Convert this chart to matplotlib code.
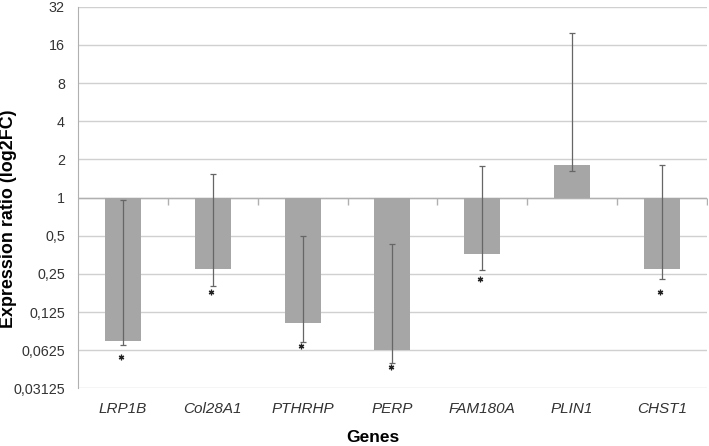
import matplotlib
matplotlib.use("Agg")
import matplotlib.pyplot as plt
import numpy as np

plt.rcParams['font.family'] = ['Liberation Sans', 'DejaVu Sans']

genes = ['LRP1B', 'Col28A1', 'PTHRHP', 'PERP', 'FAM180A', 'PLIN1', 'CHST1']
ratio = [0.074, 0.275, 0.102, 0.0625, 0.357, 1.81, 0.272]
err_low = [0.069, 0.20, 0.073, 0.050, 0.27, 1.62, 0.23]
err_high = [0.95, 1.53, 0.50, 0.43, 1.76, 20.0, 1.82]
# significance markers (star heights)
star_y = [0.055, 0.180, 0.067, 0.046, 0.228, None, 0.180]

ticks = [0.03125, 0.0625, 0.125, 0.25, 0.5, 1, 2, 4, 8, 16, 32]
tick_labels = ['0,03125', '0,0625', '0,125', '0,25', '0,5', '1', '2', '4', '8', '16', '32']

fig = plt.figure(figsize=(7.09, 4.46), dpi=100)
ax = fig.add_axes([0.110, 0.129, 0.887, 0.856])

x = np.arange(len(genes))
r = np.array(ratio)
# bars start at 1 on a log axis
ax.bar(x, r - 1, bottom=1, width=0.4, color='#a6a6a6', zorder=2)
ax.errorbar(x, r, yerr=[r - np.array(err_low), np.array(err_high) - r],
            fmt='none', ecolor='#666666', elinewidth=0.9, capsize=2.5,
            capthick=0.9, zorder=3)

sx = [x[i] - 0.02 for i, s in enumerate(star_y) if s is not None]
sy = [s for s in star_y if s is not None]
ax.plot(sx, sy, linestyle='none', marker=(6, 2, 0), markersize=4,
        markeredgewidth=0.9, color='#222222', zorder=4)

ax.set_yscale('log', base=2)
ax.set_ylim(0.03125, 32)
ax.set_xlim(-0.5, len(genes) - 0.5)
ax.set_yticks(ticks)
ax.set_yticklabels(tick_labels)
ax.yaxis.set_minor_locator(matplotlib.ticker.NullLocator())
ax.tick_params(axis='y', length=0, labelsize=10.3, labelcolor='#333333', pad=9.5)
ax.grid(axis='y', color='#d0d0d0', linewidth=1, zorder=0)
ax.set_axisbelow(True)

ax.set_xticks(x)
ax.set_xticklabels(genes, fontstyle='italic', fontsize=11, color='#333333')
ax.tick_params(axis='x', length=0, pad=10)

# category axis drawn at ratio = 1 with small ticks between groups
ax.axhline(1, color='#b0b0b0', linewidth=1, zorder=1)
bounds = np.arange(len(genes)) + 0.5
ax.plot(bounds, np.ones(len(bounds)), linestyle='none', marker=3,
        markersize=5, color='#b0b0b0', zorder=1)

for s in ['top', 'right', 'bottom']:
    ax.spines[s].set_visible(False)
ax.spines['left'].set_color('#b0b0b0')

fig.text(373 / 709, 1 - 437 / 446, 'Genes', ha='center', va='center',
         fontsize=12.5, fontweight='bold')
fig.text(9 / 709, 1 - 219 / 446, 'Expression ratio (log2FC)', ha='center',
         va='center', rotation=90, fontsize=12.9, fontweight='bold')

fig.savefig('out.png', dpi=100)
